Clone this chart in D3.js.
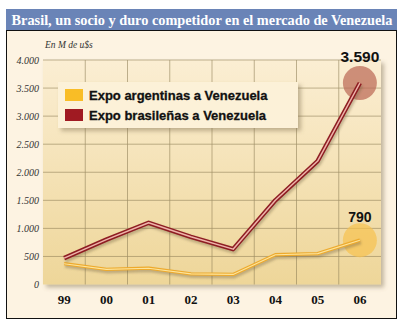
<!DOCTYPE html>
<html>
<head>
<meta charset="utf-8">
<script src="https://cdn.jsdelivr.net/npm/d3@7"></script>
<style>
  html, body { margin: 0; padding: 0; background: #fff; }
  svg { display: block; }
</style>
</head>
<body>
<svg id="chart"></svg>
<script>
const W = 412, H = 330;
const PLOT = { left: 43, right: 381, top: 60, bottom: 284.5 };

const years = ["99", "00", "01", "02", "03", "04", "05", "06"];
const yTicks = [0, 500, 1000, 1500, 2000, 2500, 3000, 3500, 4000];
// millones de u$s
const expoBrasil = [470, 800, 1100, 850, 630, 1500, 2200, 3590];
const expoArgentina = [370, 270, 290, 190, 180, 530, 550, 790];
const seriesNames = ["Expo argentinas a Venezuela", "Expo brasileñas a Venezuela"];

const fmt = v => d3.format(",")(v).replace(/,/g, ".");

const svg = d3.select("#chart").attr("width", W).attr("height", H);
const defs = svg.append("defs");

const grad = defs.append("linearGradient").attr("id", "plotFill")
  .attr("x1", 0).attr("y1", 0).attr("x2", 0).attr("y2", 1);
grad.append("stop").attr("offset", "0%").attr("stop-color", "#fbeed3");
grad.append("stop").attr("offset", "100%").attr("stop-color", "#eed699");

const shadow = defs.append("filter").attr("id", "shadow")
  .attr("x", "-10%").attr("y", "-10%").attr("width", "130%").attr("height", "130%");
shadow.append("feDropShadow").attr("dx", 3).attr("dy", 3).attr("stdDeviation", 2)
  .attr("flood-color", "#7a6a4a").attr("flood-opacity", 0.45);

const soft = defs.append("filter").attr("id", "soft")
  .attr("x", "-20%").attr("y", "-20%").attr("width", "140%").attr("height", "140%");
soft.append("feGaussianBlur").attr("stdDeviation", 1.2);

// title bar + panel
svg.append("rect").attr("x", 6).attr("y", 9).attr("width", 391).attr("height", 21)
  .attr("fill", "#6a84b7");
svg.append("text").attr("x", 202).attr("y", 25)
  .attr("text-anchor", "middle")
  .attr("font-family", "Liberation Serif, serif").attr("font-weight", "bold")
  .attr("font-size", 14.3).attr("fill", "#fff")
  .text("Brasil, un socio y duro competidor en el mercado de Venezuela");
svg.append("rect").attr("x", 6.5).attr("y", 30.5).attr("width", 390).attr("height", 288)
  .attr("fill", "#fdf3e2").attr("stroke", "#111").attr("stroke-width", 1);

const x = d3.scaleBand().domain(years).range([PLOT.left, PLOT.right]);
const y = d3.scaleLinear().domain([0, 4000]).range([PLOT.bottom, PLOT.top]);
const cx = d => x(d) + x.bandwidth() / 2;

// plot background
svg.append("rect")
  .attr("x", PLOT.left).attr("y", PLOT.top)
  .attr("width", PLOT.right - PLOT.left).attr("height", PLOT.bottom - PLOT.top)
  .attr("fill", "url(#plotFill)").attr("filter", "url(#shadow)");

// grid
const grid = svg.append("g").attr("stroke", "#8c7d55").attr("stroke-width", 0.7).attr("opacity", 0.8);
grid.selectAll(".h").data(yTicks.filter(t => t > 0)).join("line")
  .attr("x1", PLOT.left).attr("x2", PLOT.right)
  .attr("y1", d => y(d)).attr("y2", d => y(d));
grid.selectAll(".v").data(years.slice(1)).join("line")
  .attr("x1", d => x(d)).attr("x2", d => x(d))
  .attr("y1", PLOT.top).attr("y2", PLOT.bottom);

// axes
const yAxis = svg.append("g").attr("transform", `translate(${PLOT.left - 4},0)`)
  .call(d3.axisLeft(y).tickValues(yTicks).tickFormat(fmt).tickSize(0).tickPadding(0));
yAxis.select(".domain").remove();
yAxis.selectAll("text")
  .attr("font-family", "Liberation Serif, serif").attr("font-style", "italic")
  .attr("font-size", 10).attr("fill", "#333");

const xAxis = svg.append("g").attr("transform", `translate(0,${PLOT.bottom})`)
  .call(d3.axisBottom(x).tickSize(0).tickPadding(10));
xAxis.select(".domain").remove();
xAxis.selectAll("text")
  .attr("font-family", "Liberation Serif, serif").attr("font-weight", "bold")
  .attr("font-size", 13).attr("fill", "#111");

svg.append("text").attr("x", 45).attr("y", 48)
  .attr("font-family", "Liberation Serif, serif").attr("font-style", "italic")
  .attr("font-size", 9.5).attr("fill", "#333")
  .text("En M de u$s");

// highlight circles at the last value
const last = years[years.length - 1];
svg.append("circle").attr("cx", cx(last)).attr("cy", y(expoBrasil[7]))
  .attr("r", 17).attr("fill", "#bb6a56").attr("opacity", 0.72);
svg.append("circle").attr("cx", cx(last)).attr("cy", y(expoArgentina[7]))
  .attr("r", 17).attr("fill", "#f7c24e").attr("opacity", 0.7);

// lines: dark outer stroke with light core
const line = d3.line().x((d, i) => cx(years[i])).y(d => y(d));
function drawSeries(vals, outer, inner, wOut, wIn) {
  svg.append("path").attr("d", line(vals)).attr("fill", "none")
    .attr("stroke", "#6b5a3a").attr("stroke-opacity", 0.35).attr("stroke-width", wOut + 1)
    .attr("transform", "translate(1,2)").attr("filter", "url(#soft)");
  svg.append("path").attr("d", line(vals)).attr("fill", "none")
    .attr("stroke", outer).attr("stroke-width", wOut).attr("stroke-linejoin", "round");
  svg.append("path").attr("d", line(vals)).attr("fill", "none")
    .attr("stroke", inner).attr("stroke-width", wIn).attr("stroke-linejoin", "round");
}
drawSeries(expoArgentina, "#eeaa2c", "#fde49c", 3.3, 1.1);
drawSeries(expoBrasil, "#8e1d22", "#efb3aa", 4.5, 1.5);

// value labels
svg.append("text").attr("x", cx(last)).attr("y", 62)
  .attr("text-anchor", "middle")
  .attr("font-family", "Liberation Sans, Arial, sans-serif").attr("font-weight", "bold")
  .attr("font-size", 15.5).attr("fill", "#111")
  .text(fmt(expoBrasil[7]));
svg.append("text").attr("x", cx(last)).attr("y", 222)
  .attr("text-anchor", "middle")
  .attr("font-family", "Liberation Sans, Arial, sans-serif").attr("font-weight", "bold")
  .attr("font-size", 14).attr("fill", "#111")
  .text(fmt(expoArgentina[7]));

// legend
const legend = svg.append("g");
legend.append("rect").attr("x", 58).attr("y", 82).attr("width", 240).attr("height", 46)
  .attr("fill", "#fcf1d8").attr("filter", "url(#shadow)");
const swatch = ["#f9bd26", "#a01a22"];
seriesNames.forEach((name, i) => {
  legend.append("rect").attr("x", 65).attr("y", 89 + i * 20).attr("width", 18).attr("height", 12)
    .attr("fill", swatch[i]);
  legend.append("text").attr("x", 89).attr("y", 100 + i * 20)
    .attr("font-family", "Liberation Sans, Arial, sans-serif").attr("font-weight", "bold")
    .attr("font-size", 13).attr("fill", "#111")
    .attr("stroke", "#111").attr("stroke-width", 0.3)
    .text(name);
});
</script>
</body>
</html>
